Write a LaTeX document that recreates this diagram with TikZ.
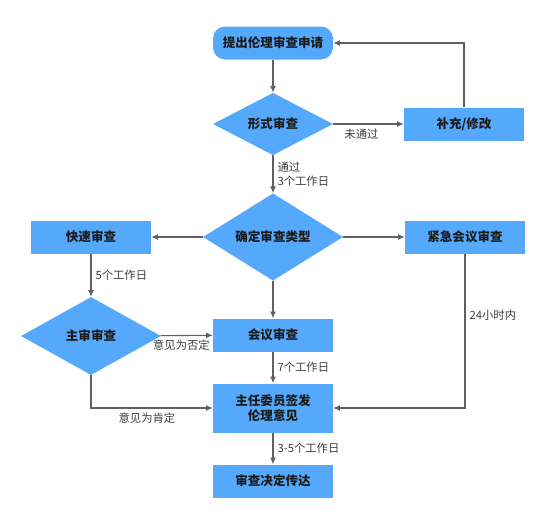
\documentclass[tikz,border=0pt]{standalone}
\usepackage{fontspec}
\setmainfont{Noto Sans CJK SC}
\usepackage{xcolor}
\usetikzlibrary{shapes.geometric,arrows.meta}
\definecolor{boxblue}{HTML}{55A9FD}
\definecolor{linegray}{HTML}{606060}
\definecolor{textdark}{HTML}{1C1C1C}
\definecolor{labelgray}{HTML}{3C3C3C}
\tikzset{
  box/.style={fill=boxblue, minimum width=90pt, minimum height=24.75pt, inner sep=0pt,
    font=\bfseries\fontsize{9.4}{11.6}\selectfont, text=textdark, align=center},
  check/.style={diamond, fill=boxblue, inner sep=0pt, minimum width=105pt, minimum height=60pt,
    font=\bfseries\fontsize{9.4}{11.6}\selectfont, text=textdark},
  flow/.style={draw=linegray, line width=0.8pt, -{Latex[length=5pt,width=4.5pt]}},
  lbl/.style={font=\fontsize{8.5}{10.2}\selectfont, text=labelgray, inner sep=3pt}
}
\begin{document}
\begin{tikzpicture}[x=0.75pt,y=-0.75pt]
            \useasboundingbox (0,0) rectangle (557,529);
            \node [box, rounded corners=9pt] (apply) at (273,43) {提出伦理审查申请};
            \node [check, minimum height=46.5pt, minimum width=90pt] (formal) at (273,124) {形式审查};
            \node [box] (amend) at (464,124) {补充/修改};
            \node [check] (kind) at (273,237) {确定审查类型};
            \node [box] (fast) at (91,237) {快速审查};
            \node [box] (urgent) at (465,237) {紧急会议审查};
            \node [check, minimum height=58.5pt] (main) at (91,336) {主审审查};
            \node [box] (meeting) at (273,335) {会议审查};
            \node [box, minimum height=36.75pt] (chair) at (273,408) {主任委员签发\\伦理意见};
            \node [box] (notify) at (273,481) {审查决定传达};
            \draw [flow] (apply) -- (formal);
            \draw [flow] (formal) -- node [lbl, below, pos=0.4]{未通过} (amend);
            \draw [flow] (amend.north) |- (apply.east);
            \draw [flow] (formal) -- node [lbl, right, align=left]{通过\\3个工作日} (kind);
            \draw [flow] (kind) -- (fast);
            \draw [flow] (kind) -- (urgent);
            \draw [flow] (kind) -- (meeting);
            \draw [flow] (fast) -- node [lbl, right]{5个工作日} (main);
            \draw [flow] (main) -- node [lbl, below, pos=0.4]{意见为否定} (meeting);
            \draw [flow] (meeting) -- node [lbl, right]{7个工作日} (chair);
            \draw [flow] (main.south) |- node [lbl, below, pos=0.73]{意见为肯定} (chair.west);
            \draw [flow] (urgent.south) |- node [lbl, right, pos=0.2]{24小时内} (chair.east);
            \draw [flow] (chair) -- node [lbl, right]{3-5个工作日} (notify);
        \end{tikzpicture}
\end{document}
